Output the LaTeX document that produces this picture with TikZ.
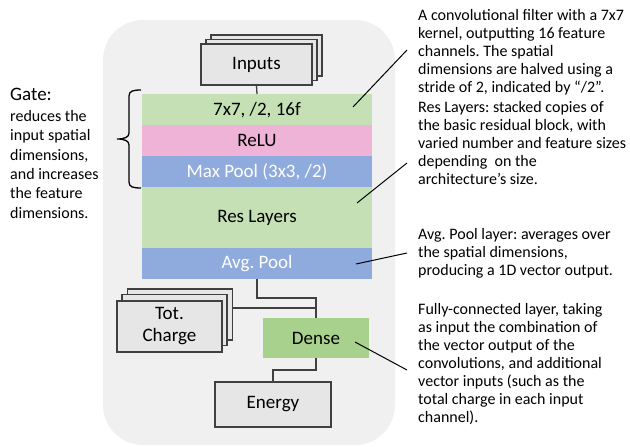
\documentclass[tikz,border=0pt]{standalone}
\usepackage{fontspec}
\setmainfont{Carlito}
\frenchspacing
\definecolor{bgfill}{HTML}{F0F0F0}
\definecolor{boxfill}{HTML}{E7E6E6}
\definecolor{boxline}{HTML}{404040}
\definecolor{lgreen}{HTML}{C5E0B4}
\definecolor{dgreen}{HTML}{A9D18E}
\definecolor{lblue}{HTML}{8FAADC}
\definecolor{lpink}{HTML}{EFB3D8}
\begin{document}
\begin{tikzpicture}[x=1pt,y=-1pt,
  lbl/.style={font=\fontsize{19}{22}\selectfont},
  gbox/.style={draw=boxline, fill=boxfill, line width=1.3pt, inner sep=0pt, align=center, font=\fontsize{19}{22}\selectfont},
  layer/.style={rectangle, inner sep=0pt, minimum width=230pt, minimum height=31pt, anchor=north, font=\fontsize{19}{22}\selectfont},
  note/.style={anchor=north west, inner sep=0pt, align=left, font=\fontsize{16}{18}\selectfont},
  gnote/.style={anchor=north west, inner sep=0pt, align=left, font=\fontsize{16}{19.4}\selectfont},
  wire/.style={draw=boxline, line width=1.3pt},
  ptr/.style={draw=black, line width=1pt}]
\useasboundingbox (0,0) rectangle (630,447);
% background panel
\fill[bgfill, rounded corners=40pt] (103,20) rectangle (395,445);

% Inputs stack
\node[gbox, minimum width=111pt, minimum height=41pt] (in3) at (266.5,55.5) {};
\node[gbox, minimum width=111pt, minimum height=41pt] (in2) at (261.5,60) {};
\node[gbox, minimum width=111pt, minimum height=41pt] (inputs) at (256.5,64.5) {Inputs};

% layers
\node[layer, fill=lgreen] (conv) at (257,94) {7x7, /2, 16f};
\node[layer, fill=lpink] (relu) at (257,125) {ReLU};
\node[layer, fill=lblue, text=white] (maxp) at (257,156) {Max Pool (3x3, /2)};
\node[layer, fill=lgreen, minimum height=61pt] (res) at (257,187) {Res Layers};
\node[layer, fill=lblue, text=white] (avgp) at (257,248) {Avg. Pool};

% Tot. Charge stack
\node[gbox, minimum width=105pt, minimum height=51pt] (tc3) at (180,314.5) {};
\node[gbox, minimum width=105pt, minimum height=51pt] (tc2) at (174.5,320) {};
\node[gbox, minimum width=105pt, minimum height=51pt] (tc) at (169.5,326.5) {Tot.\\Charge};

% Dense and Energy
\node[rectangle, fill=dgreen, inner sep=0pt, minimum width=106pt, minimum height=40pt, lbl] (dense) at (316,338) {Dense};
\node[gbox, minimum width=116pt, minimum height=45pt] (energy) at (273,404.5) {Energy};

% connectors
\coordinate (j1) at (316,298);
\coordinate (j2) at (316,308);
\coordinate (j3) at (273,370);
\draw[wire] (inputs.south) -- (conv.north);
\draw[wire] (avgp.south) |- (j1) -- (dense.north);
\draw[wire] (tc3.east |- j2) -- (j2);
\draw[wire] (dense.south) |- (j3) -- (energy.north);

% gate brace and text
\draw[ptr, line width=1.3pt] (141,90) .. controls (133,90) and (129,91) .. (129,96) -- (129,133) .. controls (129,137) and (125,139) .. (117,139) .. controls (125,139) and (129,141) .. (129,145) -- (129,182) .. controls (129,187) and (133,188) .. (141,188);
\node[anchor=base west, inner sep=0pt, lbl] (gate) at (10,100) {Gate:};
\node[gnote] (gatetxt) at (10,110) {reduces the\\input spatial\\dimensions,\\and increases\\the feature\\dimensions.};

% right notes
\node[note] (n1) at (418,9.5) {A convolutional filter with a 7x7\\kernel, outputting 16 feature\\channels. The spatial\\dimensions are halved using a\\stride of 2, indicated by “/2”.};
\node[note] (n2) at (418,101) {Res Layers: stacked copies of\\the basic residual block, with\\varied number and feature sizes\\depending\ \ on the\\architecture’s size.};
\node[note] (n3) at (418,228) {Avg. Pool layer: averages over\\the spatial dimensions,\\producing a 1D vector output.};
\node[note] (n4) at (418,303) {Fully-connected layer, taking\\as input the combination of\\the vector output of the\\convolutions, and additional\\vector inputs (such as the\\total charge in each input\\channel).};

% pointer lines
\coordinate (p1a) at (353,107); \coordinate (p1b) at (407,50);
\coordinate (p2a) at (357,203); \coordinate (p2b) at (407,163);
\coordinate (p3a) at (356,264); \coordinate (p3b) at (407,253);
\coordinate (p4a) at (355,342); \coordinate (p4b) at (407,370);
\draw[ptr] (p1a) -- (p1b);
\draw[ptr] (p2a) -- (p2b);
\draw[ptr] (p3a) -- (p3b);
\draw[ptr] (p4a) -- (p4b);
\end{tikzpicture}
\end{document}
